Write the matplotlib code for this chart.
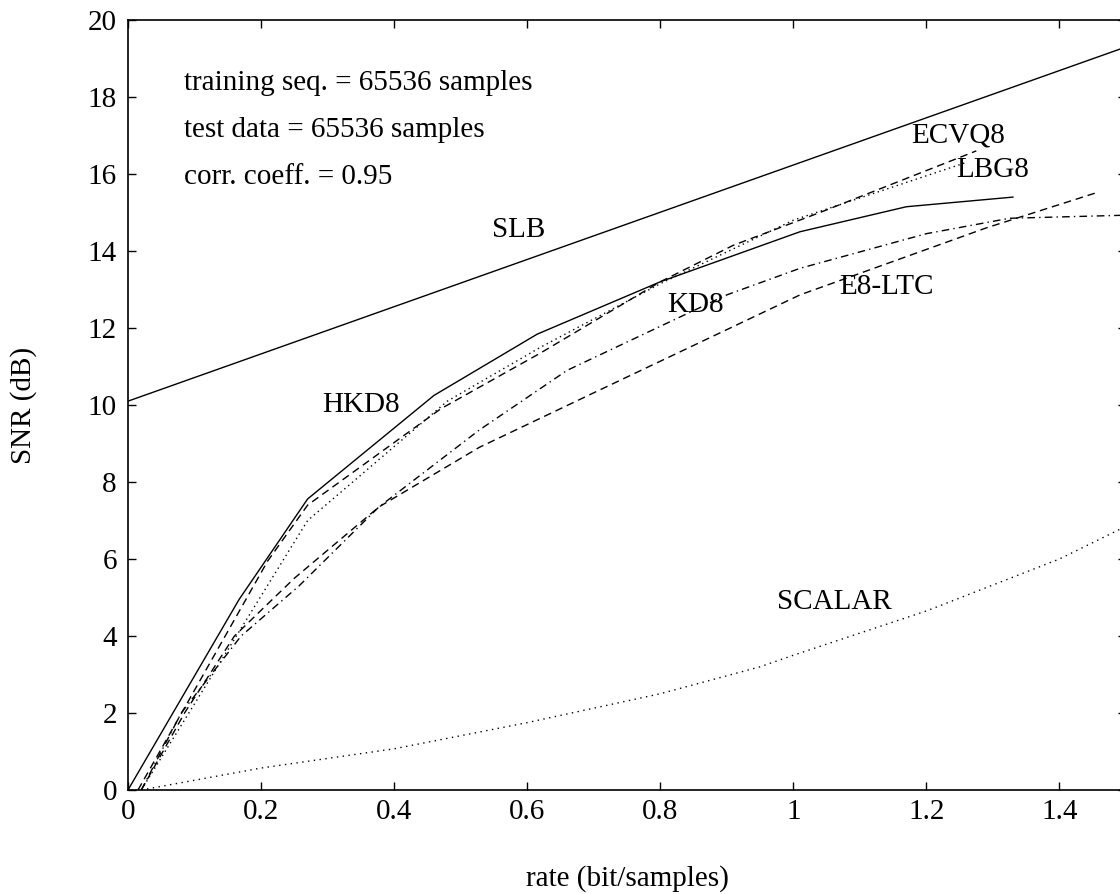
import matplotlib
matplotlib.use('Agg')
import matplotlib.pyplot as plt

# curve data (rate in bit/sample, SNR in dB)
slb_x = [0.0, 1.5]
slb_y = [10.1, 19.3]

hkd8_x = [0.0, 0.167, 0.27, 0.46, 0.615, 0.80, 1.01, 1.17, 1.33]
hkd8_y = [0.0, 4.95, 7.56, 10.25, 11.84, 13.2, 14.5, 15.15, 15.4]

ecvq8_x = [0.015, 0.21, 0.27, 0.47, 0.62, 0.80, 0.91, 1.04, 1.275]
ecvq8_y = [0.0, 5.95, 7.4, 9.9, 11.35, 13.2, 14.15, 15.0, 16.6]

lbg8_x = [0.02, 0.27, 0.48, 0.62, 0.80, 1.0, 1.26]
lbg8_y = [0.0, 7.0, 10.1, 11.5, 13.15, 14.8, 16.3]

kd8_x = [0.02, 0.08, 0.17, 0.257, 0.377, 0.528, 0.66, 0.90, 1.01, 1.2, 1.325, 1.5]
kd8_y = [0.0, 2.0, 4.0, 5.3, 7.35, 9.35, 10.9, 12.86, 13.55, 14.45, 14.85, 14.93]

e8ltc_x = [0.02, 0.085, 0.16, 0.25, 0.377, 0.528, 0.698, 1.01, 1.29, 1.453]
e8ltc_y = [0.0, 2.0, 4.0, 5.5, 7.35, 8.9, 10.3, 12.86, 14.6, 15.5]

scalar_x = [0.02, 0.2, 0.4, 0.6, 0.8, 0.95, 1.0, 1.2, 1.4, 1.5]
scalar_y = [0.0, 0.57, 1.07, 1.75, 2.5, 3.2, 3.5, 4.65, 6.0, 6.85]

info_lines = ['training seq. = 65536 samples',
              'test data = 65536 samples',
              'corr. coeff. = 0.95']
info_y = [18.36, 17.14, 15.92]

labels = ['SLB', 'HKD8', 'KD8', 'ECVQ8', 'LBG8', 'E8-LTC', 'SCALAR']
label_x = [0.547, 0.292, 0.81, 1.177, 1.245, 1.069, 0.976]
label_y = [14.55, 10.0, 12.6, 17.0, 16.1, 13.07, 4.88]

plt.rcParams['font.family'] = ['Liberation Serif', 'DejaVu Serif']
fs = 21

fig = plt.figure(figsize=(11.2, 8.94), dpi=100)
ax = fig.add_axes([128/1120, 104/894, 998/1120, 770/894])

lw = 1.0
ax.plot(slb_x, slb_y, color='black', lw=lw)
ax.plot(hkd8_x, hkd8_y, color='black', lw=lw)
ax.plot(ecvq8_x, ecvq8_y, color='black', lw=lw, ls=(0, (5.5, 3.5)))
ax.plot(lbg8_x, lbg8_y, color='black', lw=lw, ls=(0, (1, 2.6)))
ax.plot(kd8_x, kd8_y, color='black', lw=lw, ls=(0, (5.5, 3, 1, 3)))
ax.plot(e8ltc_x, e8ltc_y, color='black', lw=lw, ls=(0, (5.5, 3.5)))
ax.plot(scalar_x, scalar_y, color='black', lw=lw, ls=(0, (1, 3.2)))

for t, yy in zip(info_lines, info_y):
    ax.text(0.084, yy, t, fontsize=fs, ha='left', va='center')
for t, xx, yy in zip(labels, label_x, label_y):
    ax.text(xx, yy, t, fontsize=fs, ha='left', va='center')

ax.set_xlim(0, 1.5)
ax.set_ylim(0, 20)
ax.set_xticks([0, 0.2, 0.4, 0.6, 0.8, 1.0, 1.2, 1.4])
ax.set_xticklabels(['0', '0.2', '0.4', '0.6', '0.8', '1', '1.2', '1.4'])
ax.set_yticks(range(0, 21, 2))
ax.tick_params(direction='in', top=True, right=True, length=6, width=1,
               labelsize=fs)
ax.tick_params(axis='x', pad=6.5)
ax.tick_params(axis='y', pad=8)
for s in ax.spines.values():
    s.set_linewidth(1.2)

ax.set_xlabel('rate (bit/samples)', fontsize=fs)
ax.set_ylabel('SNR (dB)', fontsize=fs)
ax.xaxis.set_label_coords(0.5, -0.098)
ax.yaxis.set_label_coords(-0.091, 0.5)

fig.savefig('out.png', dpi=100)
